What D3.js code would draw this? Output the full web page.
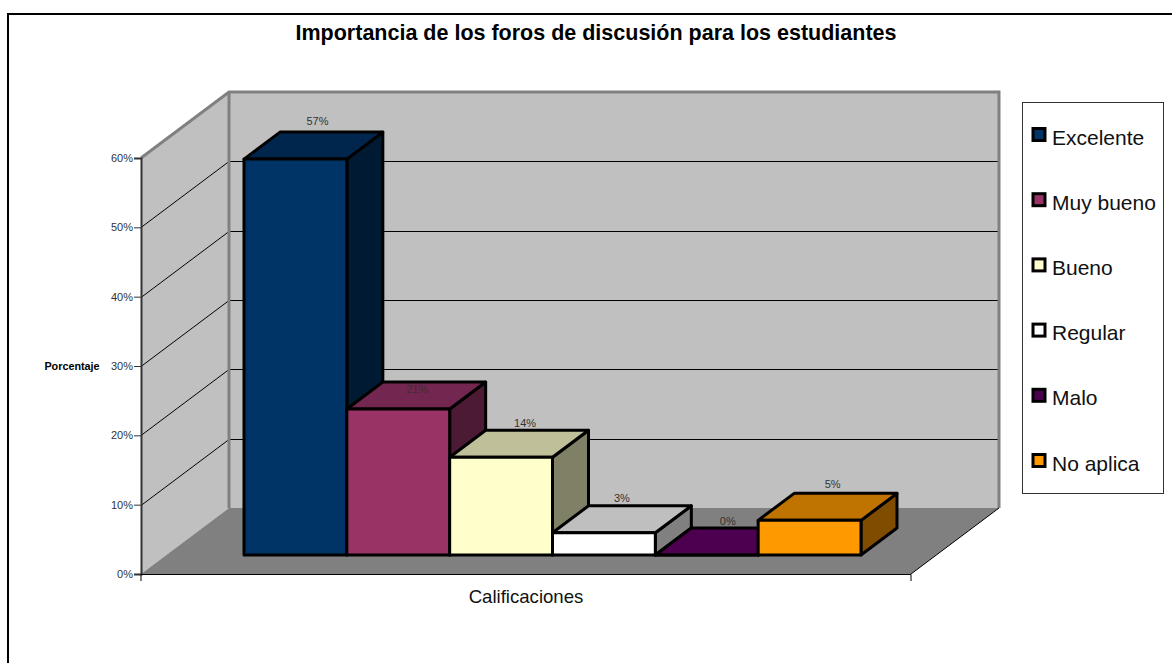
<!DOCTYPE html>
<html>
<head>
<meta charset="utf-8">
<script src="https://cdn.jsdelivr.net/npm/d3@7/dist/d3.min.js"></script>
<style>
  html, body { margin: 0; padding: 0; background: #fff; }
  svg { display: block; opacity: 0.999; }
  text { font-family: "Liberation Sans", Arial, sans-serif; }
</style>
</head>
<body>
<script>
// Datos
var categorias = ["Excelente", "Muy bueno", "Bueno", "Regular", "Malo", "No aplica"];
var valores = [57.1, 21.05, 14.1, 3.2, 0, 5];
var etiquetas = ["57%", "21%", "14%", "3%", "0%", "5%"];
var ticks = [0, 10, 20, 30, 40, 50, 60];
var colores = ["#003366", "#993366", "#ffffcc", "#ffffff", "#4d0050", "#ff9900"];
var coloresTapa = ["#00264d", "#732650", "#bfbf99", "#bfbfbf", "#4d0050", "#bf7300"];
var coloresLado = ["#001a33", "#4d1a33", "#808066", "#808080", "#330033", "#804d00"];

var width = 1172, height = 663;

var svg = d3.select("body").append("svg")
  .attr("width", width)
  .attr("height", height);

// Marco
svg.append("path")
  .attr("d", "M8," + height + "V14H" + width)
  .attr("fill", "none")
  .attr("stroke", "#000")
  .attr("stroke-width", 2);

svg.append("text")
  .attr("x", 596).attr("y", 40)
  .attr("text-anchor", "middle")
  .attr("font-size", 21.5)
  .attr("font-weight", "bold")
  .text("Importancia de los foros de discusión para los estudiantes");

// Escalas
var xEje = d3.scaleLinear().domain([0, 1]).range([141, 911]);
var yEje = d3.scaleLinear().domain([0, 60]).range([574, 158]);
var xBar = d3.scaleBand().domain(categorias).range([244, 861]);
var altura = d3.scaleLinear().domain([0, 60]).range([0, 416]);

var fondoX = 88, fondoY = -66;   // profundidad del piso
var barX = 36, barY = -27;       // profundidad de las barras
var baseBar = 555;

// Ajuste a mano de las etiquetas, cada una cae distinto sobre su barra
var ajusteEtiquetaX = [1, -2, 3, -3, 0, 2];
var ajusteEtiquetaY = [0, 18, 4, 3, 4, 2];

function poligono(p) {
  return "M" + p.map(function(d) { return d.join(","); }).join("L") + "Z";
}

var x0 = xEje(0), x1 = xEje(1), y0 = yEje(0), y6 = yEje(60);

// Paredes y piso
svg.append("path")
  .attr("d", poligono([[x0 + fondoX, y6 + fondoY], [x1 + fondoX, y6 + fondoY], [x1 + fondoX, y0 + fondoY], [x0 + fondoX, y0 + fondoY]]))
  .attr("fill", "#c0c0c0");
svg.append("path")
  .attr("d", poligono([[x0, y6], [x0 + fondoX, y6 + fondoY], [x0 + fondoX, y0 + fondoY], [x0, y0]]))
  .attr("fill", "#c0c0c0");
svg.append("path")
  .attr("d", poligono([[x0, y0], [x1, y0], [x1 + fondoX, y0 + fondoY], [x0 + fondoX, y0 + fondoY]]))
  .attr("fill", "#808080");

// Rejilla
svg.selectAll(".grid")
  .data(ticks.slice(1, 6))
  .enter()
  .append("path")
  .attr("class", "grid")
  .attr("fill", "none")
  .attr("stroke", "#000")
  .attr("stroke-width", 1)
  .attr("d", function(d) {
    var y = Math.round(yEje(d)) + 0.5;
    return "M" + x0 + "," + y + "L" + (x0 + fondoX) + "," + (y + fondoY) + "H" + (x1 + fondoX);
  });

// Borde gris de las paredes
svg.append("path")
  .attr("d", "M" + x0 + "," + y6 + "L" + (x0 + fondoX) + "," + (y6 + fondoY) + "H" + (x1 + fondoX) + "V" + (y0 + fondoY))
  .attr("fill", "none")
  .attr("stroke", "#808080")
  .attr("stroke-width", 3);
svg.append("path")
  .attr("d", "M" + (x0 + fondoX) + "," + (y6 + fondoY) + "V" + (y0 + fondoY))
  .attr("fill", "none")
  .attr("stroke", "#808080")
  .attr("stroke-width", 3);
svg.append("path")
  .attr("d", "M" + x1 + "," + y0 + "L" + (x1 + fondoX) + "," + (y0 + fondoY))
  .attr("fill", "none")
  .attr("stroke", "#000")
  .attr("stroke-width", 1);

// Eje Y
var yAxis = d3.axisLeft(yEje)
  .tickValues(ticks)
  .tickSize(7)
  .tickPadding(1)
  .tickFormat(function(d) { return d + "%"; });
var yGroup = svg.append("g")
  .attr("transform", "translate(" + x0 + ",0)")
  .call(yAxis);
yGroup.select(".domain").attr("stroke", "#333").attr("stroke-width", 2);
yGroup.selectAll(".tick line").attr("stroke", "#333");
yGroup.selectAll("text")
  .attr("font-size", 11)
  .attr("font-family", '"Liberation Sans", Arial, sans-serif')
  .attr("fill", "#333");

// Eje X
svg.append("path")
  .attr("d", "M" + x0 + "," + (y0 + 7) + "V" + (y0 + 0.5) + "H" + x1 + "V" + (y0 + 7))
  .attr("fill", "none")
  .attr("stroke", "#000")
  .attr("stroke-width", 1);

svg.append("text")
  .attr("x", 526).attr("y", 603)
  .attr("text-anchor", "middle")
  .attr("font-size", 18.6)
  .attr("fill", "#111")
  .text("Calificaciones");

svg.append("text")
  .attr("x", 72).attr("y", 370)
  .attr("text-anchor", "middle")
  .attr("font-size", 10.8)
  .attr("font-weight", "bold")
  .text("Porcentaje");

// Barras 3D
var barras = svg.selectAll(".barra")
  .data(categorias)
  .enter()
  .append("g")
  .attr("class", "barra")
  .attr("stroke", "#000")
  .attr("stroke-width", 3)
  .attr("stroke-linejoin", "round");

function esquinas(i) {
  var izq = xBar(categorias[i]);
  return { izq: izq, der: izq + xBar.bandwidth(), top: baseBar - altura(valores[i]) };
}

barras.append("path")
  .attr("fill", function(d, i) { return coloresLado[i]; })
  .attr("d", function(d, i) {
    var c = esquinas(i);
    return poligono([[c.der, c.top], [c.der + barX, c.top + barY], [c.der + barX, baseBar + barY], [c.der, baseBar]]);
  });
barras.append("path")
  .attr("fill", function(d, i) { return coloresTapa[i]; })
  .attr("d", function(d, i) {
    var c = esquinas(i);
    return poligono([[c.izq, c.top], [c.izq + barX, c.top + barY], [c.der + barX, c.top + barY], [c.der, c.top]]);
  });
barras.append("path")
  .attr("fill", function(d, i) { return colores[i]; })
  .attr("d", function(d, i) {
    var c = esquinas(i);
    return poligono([[c.izq, c.top], [c.der, c.top], [c.der, baseBar], [c.izq, baseBar]]);
  });

// Etiquetas de datos
svg.selectAll(".etiqueta")
  .data(etiquetas)
  .enter()
  .append("text")
  .attr("class", "etiqueta")
  .attr("x", function(d, i) { return esquinas(i).izq + xBar.bandwidth() / 2 + 21 + ajusteEtiquetaX[i]; })
  .attr("y", function(d, i) { return esquinas(i).top + barY - 7 + ajusteEtiquetaY[i]; })
  .attr("text-anchor", "middle")
  .attr("font-size", 11)
  .attr("fill", "#333")
  .text(function(d) { return d; });

// Leyenda
var legend = svg.append("g");
legend.append("rect")
  .attr("x", 1022.5).attr("y", 102.5)
  .attr("width", 141).attr("height", 391)
  .attr("fill", "#fff")
  .attr("stroke", "#333")
  .attr("stroke-width", 1);

var yLeyenda = d3.scalePoint().domain(categorias).range([134.5, 460.5]);

var items = legend.selectAll(".item")
  .data(categorias)
  .enter()
  .append("g")
  .attr("class", "item")
  .attr("transform", function(d) { return "translate(0," + yLeyenda(d) + ")"; });

items.append("rect")
  .attr("x", 1033).attr("y", -6)
  .attr("width", 12).attr("height", 12)
  .attr("fill", function(d, i) { return colores[i]; })
  .attr("stroke", "#000")
  .attr("stroke-width", 3);

items.append("text")
  .attr("x", 1052).attr("y", 10)
  .attr("font-size", 21)
  .attr("fill", "#111")
  .text(function(d) { return d; });
</script>
</body>
</html>
